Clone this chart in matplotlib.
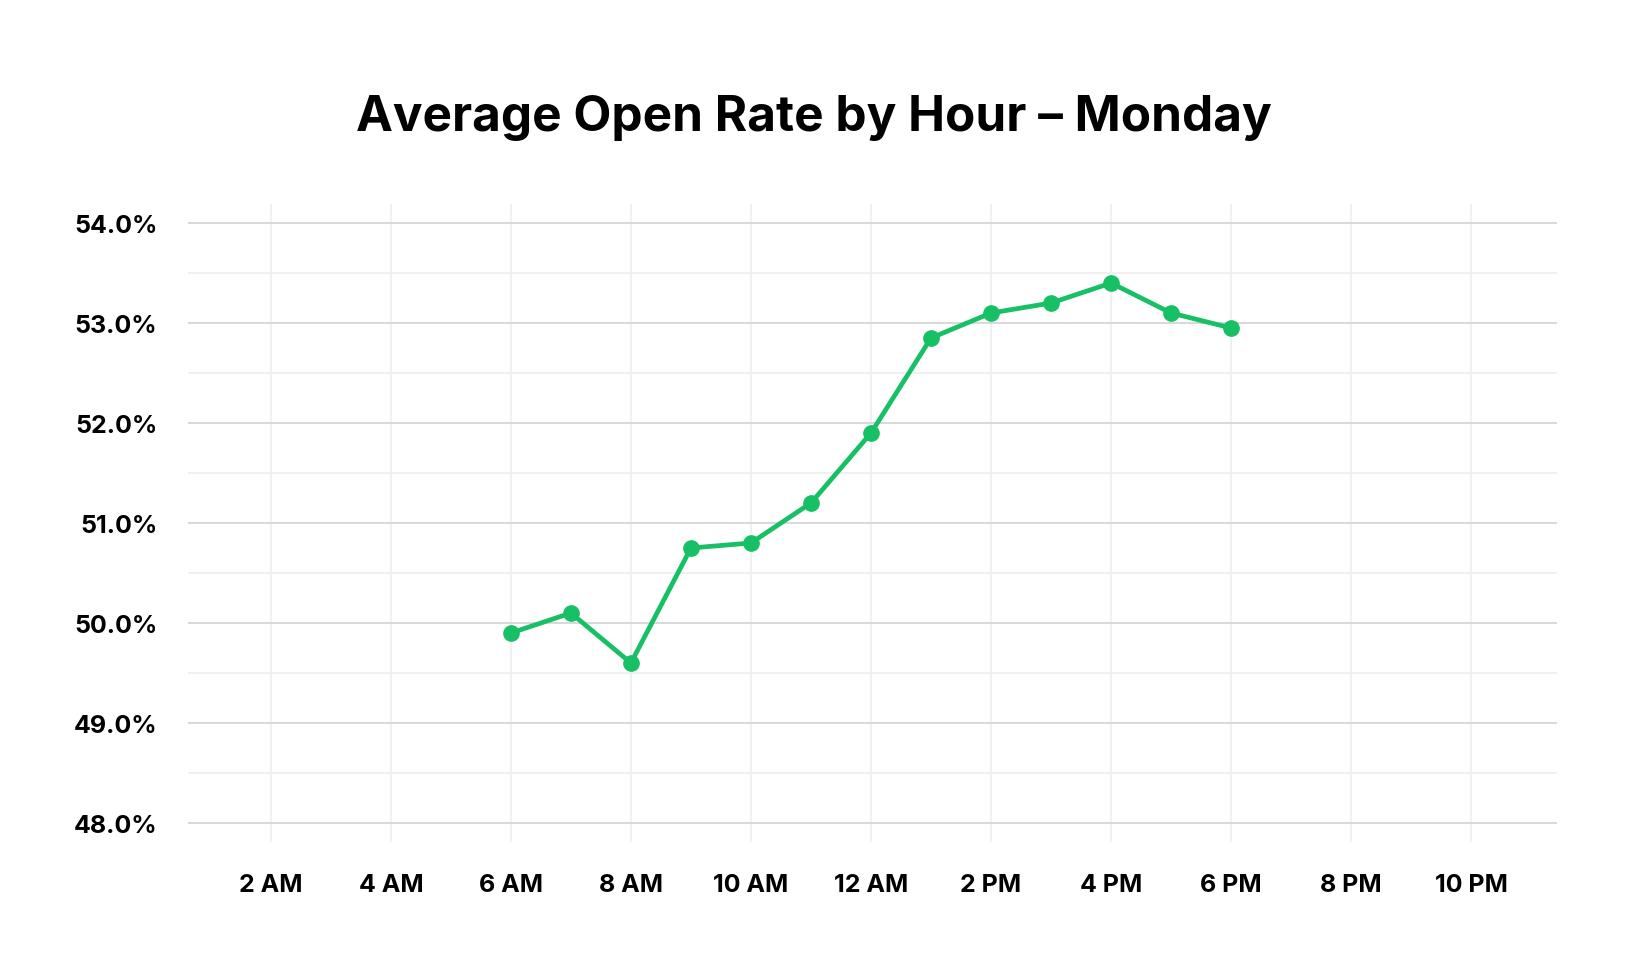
import matplotlib.pyplot as plt
from matplotlib.ticker import FuncFormatter, MultipleLocator

plt.rcParams['font.family'] = ['Inter', 'DejaVu Sans']

hours = [6, 7, 8, 9, 10, 11, 12, 13, 14, 15, 16, 17, 18]
open_rate = [49.9, 50.1, 49.6, 50.75, 50.8, 51.2, 51.9, 52.85, 53.1, 53.2, 53.4, 53.1, 52.95]

tick_hours = [2, 4, 6, 8, 10, 12, 14, 16, 18, 20, 22]
tick_labels = ['2 AM', '4 AM', '6 AM', '8 AM', '10 AM', '12 AM',
               '2 PM', '4 PM', '6 PM', '8 PM', '10 PM']

fig = plt.figure(figsize=(16.28, 9.62), dpi=100)
ax = fig.add_axes([188 / 1628, 1 - 843 / 962, (1557 - 188) / 1628, (843 - 205) / 962])

ax.plot(hours, open_rate, color='#17c065', lw=3.4, marker='o', ms=11,
        solid_capstyle='round', zorder=3)

ax.set_xlim(0.62, 23.43)
ax.set_ylim(47.81, 54.19)
ax.set_xticks(tick_hours)
ax.set_xticklabels(tick_labels)
ax.set_yticks([48, 49, 50, 51, 52, 53, 54])
ax.yaxis.set_minor_locator(MultipleLocator(0.5))
ax.yaxis.set_major_formatter(FuncFormatter(lambda v, p: f'{v:.1f}%'))

ax.grid(axis='y', which='major', color='#d6d6d6', lw=1.3)
ax.grid(axis='y', which='minor', color='#efefef', lw=1.3)
ax.grid(axis='x', which='major', color='#efefef', lw=1.3)
ax.tick_params(axis='both', which='both', length=0)
ax.tick_params(axis='y', pad=22, labelsize=18)
ax.tick_params(axis='x', pad=22, labelsize=18)
for lbl in ax.get_xticklabels() + ax.get_yticklabels():
    lbl.set_fontweight('bold')
for s in ax.spines.values():
    s.set_visible(False)

fig.text(814 / 1628, 1 - 118 / 962, 'Average Open Rate by Hour – Monday',
         ha='center', va='center', fontsize=35.6, fontweight='bold')

fig.savefig('out.png', dpi=100)
